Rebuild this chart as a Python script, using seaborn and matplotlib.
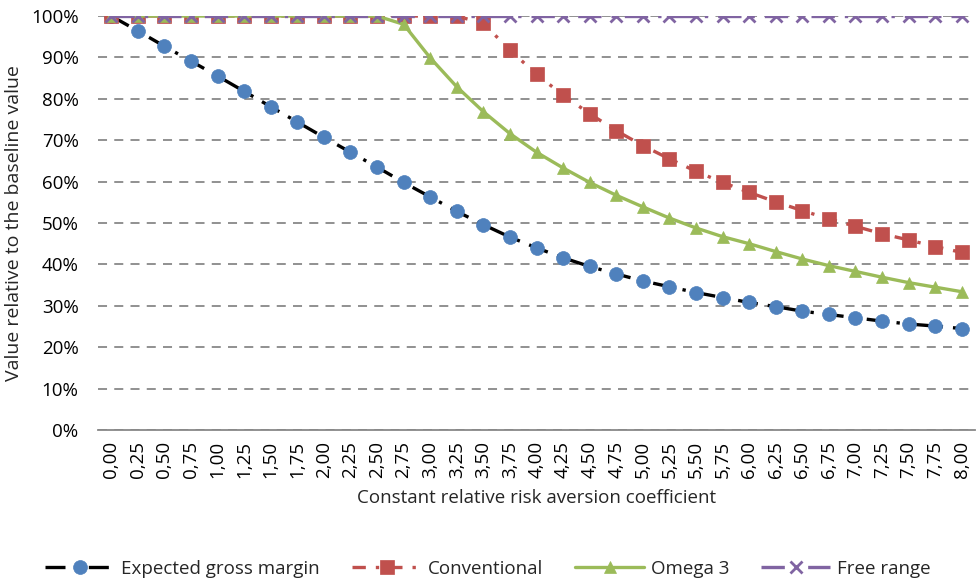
"""Relative value of production systems vs. constant relative risk aversion."""

import matplotlib.pyplot as plt
import pandas as pd
import seaborn as sns
from matplotlib.ticker import FuncFormatter, MultipleLocator

CRRA = [0.00, 0.25, 0.50, 0.75, 1.00, 1.25, 1.50, 1.75, 2.00, 2.25, 2.50,
        2.75, 3.00, 3.25, 3.50, 3.75, 4.00, 4.25, 4.50, 4.75, 5.00, 5.25,
        5.50, 5.75, 6.00, 6.25, 6.50, 6.75, 7.00, 7.25, 7.50, 7.75, 8.00]

EXPECTED_GM = [100.0, 96.4, 92.7, 89.1, 85.5, 81.8, 78.1, 74.4, 70.7, 67.1, 63.5,
               59.8, 56.3, 52.8, 49.6, 46.6, 44.0, 41.6, 39.5, 37.7, 36.0, 34.6,
               33.2, 32.0, 30.8, 29.8, 28.7, 27.9, 27.1, 26.3, 25.6, 25.1, 24.5]
CONVENTIONAL = [100.0, 100.0, 100.0, 100.0, 100.0, 100.0, 100.0, 100.0, 100.0, 100.0, 100.0,
                100.0, 100.0, 100.0, 98.2, 91.8, 85.9, 80.9, 76.4, 72.3, 68.7, 65.5,
                62.5, 59.8, 57.4, 55.1, 53.0, 51.0, 49.2, 47.4, 45.9, 44.3, 42.9]
OMEGA3 = [100.0, 100.0, 100.0, 100.0, 100.0, 100.0, 100.0, 100.0, 100.0, 100.0, 100.0,
          98.0, 89.9, 82.9, 76.9, 71.6, 67.1, 63.3, 59.8, 56.7, 53.9, 51.2,
          48.8, 46.7, 45.0, 43.1, 41.3, 39.7, 38.3, 36.9, 35.6, 34.5, 33.4]
FREE_RANGE = [100.0] * 33

SERIES = {
    "Expected gross margin": EXPECTED_GM,
    "Conventional": CONVENTIONAL,
    "Omega 3": OMEGA3,
    "Free range": FREE_RANGE,
}

# line colour, marker colour, marker, marker size, dash pattern
STYLES = {
    "Expected gross margin": ("#000000", "#4F81BD", "o", 10, (0, (6, 3, 1, 3))),
    "Conventional": ("#C0504D", "#C0504D", "s", 10, (0, (4, 3, 1, 3))),
    "Omega 3": ("#9BBB59", "#9BBB59", "^", 9, "-"),
    "Free range": ("#8064A2", "#8064A2", "x", 9, (0, (7, 3, 1, 3))),
}

FS = 13.5


def build_dataset():
    frames = []
    for name, vals in SERIES.items():
        frames.append(pd.DataFrame({"CRRA": CRRA, "Value": vals, "Series": name}))
    return pd.concat(frames, ignore_index=True)


def main():
    sns.set_theme(style="white")
    plt.rcParams["font.family"] = ["Open Sans", "DejaVu Sans"]

    df = build_dataset()
    fig = plt.figure(figsize=(9.76, 5.85), dpi=100)
    ax = fig.add_axes([0.1004, 0.265, 0.8986, 0.7076])

    for name in SERIES:
        lc, mc, mk, ms, ls = STYLES[name]
        sub = df[df["Series"] == name]
        extra = {"markeredgewidth": 2.0} if mk == "x" else {"markeredgewidth": 0.5}
        sns.lineplot(
            data=sub, x="CRRA", y="Value", ax=ax, color=lc, linewidth=2.4,
            linestyle=ls, marker=mk, markersize=ms, markerfacecolor=mc,
            markeredgecolor=mc, label=name, **extra,
        )

    ax.set_xlim(-0.125, 8.125)
    ax.set_ylim(0, 100)
    ax.yaxis.set_major_locator(MultipleLocator(10))
    ax.yaxis.set_major_formatter(FuncFormatter(lambda v, _: f"{v:.0f}%"))
    ax.set_xticks(CRRA)
    ax.set_xticklabels([f"{c:.2f}".replace(".", ",") for c in CRRA], rotation=90)
    ax.tick_params(axis="both", length=0, labelsize=FS, colors="#000000")
    ax.tick_params(axis="x", pad=8)
    ax.tick_params(axis="y", pad=14)

    ax.grid(axis="y", color="#888888", linestyle=(0, (5, 4)), linewidth=1.3)
    ax.set_axisbelow(True)
    for side in ("top", "right", "left"):
        ax.spines[side].set_visible(False)
    ax.spines["bottom"].set_color("#888888")
    ax.spines["bottom"].set_linewidth(1.3)

    ax.set_xlabel("Constant relative risk aversion coefficient", fontsize=FS, labelpad=8)
    ax.set_ylabel("Value relative to the baseline value", fontsize=14, labelpad=6)

    handles, labels = ax.get_legend_handles_labels()
    ax.legend_.remove()
    fig.legend(handles, labels, loc="center", bbox_to_anchor=(0.5, 0.028), ncol=4,
               frameon=False, fontsize=FS, handlelength=3.7, columnspacing=1.7,
               handletextpad=0.35)

    fig.savefig("out.png", dpi=100)


if __name__ == "__main__":
    main()
